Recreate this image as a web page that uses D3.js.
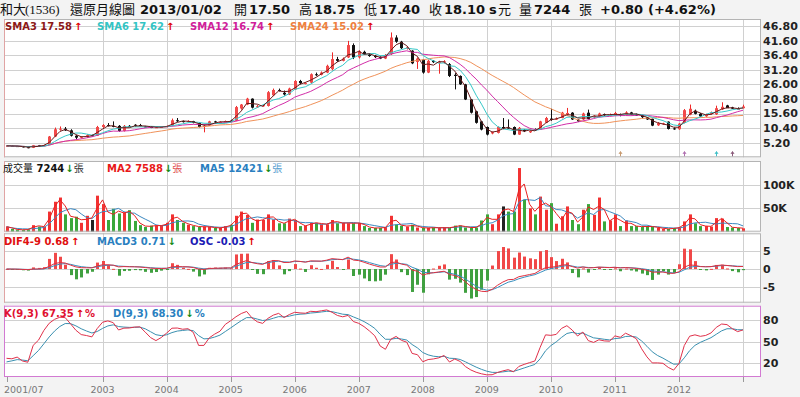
<!DOCTYPE html>
<html>
<head>
<meta charset="utf-8">
<script src="https://cdn.jsdelivr.net/npm/d3@7"></script>
<style>
body{margin:0;background:#f3f3f3;}
svg{display:block;font-family:"DejaVu Sans",Verdana,sans-serif;}
</style>
</head>
<body>
<script>
// monthly adjusted candles, 2001/07 .. 2013/01
var open = [4.0,4.1,4.0,3.9,3.6,3.4,4.3,4.0,4.5,7.4,
  10.0,10.2,9.6,7.7,7.0,7.2,7.9,7.7,10.8,11.5,
  11.2,11.2,9.4,11.2,11.6,11.5,11.0,10.8,10.6,10.7,
  10.8,11.3,13.2,12.9,12.6,12.9,12.2,10.8,11.3,12.8,
  12.5,12.6,13.1,13.0,17.4,18.8,20.9,17.8,18.2,18.3,
  22.1,24.0,23.0,22.4,24.2,27.2,26.4,26.6,29.6,29.4,
  30.2,31.4,35.0,34.4,35.6,40.0,35.6,37.6,36.6,36.2,
  35.8,35.2,36.8,42.7,41.2,38.8,38.0,34.0,34.8,30.2,
  34.4,33.9,34.0,33.2,29.4,29.0,26.0,20.6,16.4,12.8,
  10.8,8.5,8.7,10.8,10.6,10.8,8.1,9.8,8.9,10.0,
  9.9,12.3,13.8,13.6,14.0,15.2,15.9,13.4,13.5,15.9,
  14.2,14.6,15.4,15.0,14.9,15.4,15.0,16.0,15.2,15.0,
  14.2,13.7,11.4,11.8,12.7,10.3,10.0,12.3,15.2,16.6,
  15.5,14.6,15.4,15.3,17.1,18.5,17.8,17.4,17.5];
var high = [4.3,4.3,4.1,4.0,3.7,4.4,4.4,4.5,7.6,10.6,
  11.0,10.8,10.0,7.9,7.5,8.2,8.1,11.2,11.8,12.2,
  12.8,11.5,11.5,11.5,11.8,11.9,11.2,10.9,10.9,11.1,
  11.3,13.8,14.0,13.1,13.2,13.0,12.3,11.6,13.0,13.0,
  12.8,13.1,13.4,18.3,19.0,21.2,21.0,18.6,18.9,23.6,
  24.5,24.5,23.8,24.8,27.5,27.6,26.8,29.9,30.2,30.6,
  33.0,37.4,35.8,35.6,41.5,40.6,38.2,38.0,37.0,36.5,
  36.0,36.8,44.5,43.5,41.5,39.6,38.2,35.6,35.0,34.8,
  34.6,34.4,34.6,33.6,30.0,29.2,26.2,20.8,16.6,13.0,
  11.0,9.2,11.0,14.0,13.5,11.0,10.8,10.0,9.6,10.3,
  13.0,14.4,17.3,14.2,16.2,17.6,16.1,13.6,15.9,17.0,
  15.0,15.9,15.6,15.6,16.2,15.6,16.4,16.2,15.6,15.2,
  14.3,13.8,12.5,12.3,12.8,10.6,12.2,17.2,18.8,17.0,
  15.8,15.5,16.3,18.4,19.6,18.7,18.0,17.8,18.75];
var low = [3.9,3.9,3.7,3.5,3.2,3.3,3.9,4.0,4.4,7.2,
  9.5,9.4,7.4,6.5,6.7,6.9,7.3,7.6,10.5,11.0,
  10.7,9.1,9.2,10.8,11.0,11.2,10.7,10.4,10.5,10.6,
  10.7,11.2,12.6,12.4,12.5,12.1,10.6,8.9,11.2,12.3,
  12.2,12.5,12.7,12.9,17.0,18.6,17.4,17.6,18.0,18.1,
  21.8,23.5,22.0,22.2,24.0,26.0,26.0,26.4,29.0,29.2,
  30.0,31.0,34.0,34.2,35.4,35.0,35.2,36.6,35.8,35.4,
  35.0,35.0,36.5,40.8,38.6,38.4,33.2,31.5,29.8,30.0,
  33.6,29.8,33.4,28.6,24.2,25.8,20.4,15.6,12.0,9.6,
  7.8,8.2,8.5,10.0,10.2,7.9,8.0,9.0,8.7,9.4,
  9.8,12.2,13.0,13.4,13.9,15.0,13.3,12.6,13.3,13.5,
  14.0,14.5,14.8,14.7,14.8,14.6,14.9,15.1,14.8,14.0,
  13.3,11.1,11.2,11.6,9.9,9.8,9.8,12.1,15.0,15.3,
  14.4,14.4,15.2,15.1,16.9,17.6,17.2,17.2,17.4];
var close = [4.1,4.0,3.9,3.6,3.4,4.3,4.0,4.4,7.4,10.0,
  10.2,9.6,7.7,7.0,7.3,7.9,7.9,10.8,11.5,11.2,
  11.0,9.4,11.2,11.0,11.3,11.3,10.9,10.6,10.7,10.9,
  11.2,13.2,12.9,12.7,12.9,12.3,10.8,11.2,12.8,12.5,
  12.6,12.9,12.9,17.9,18.8,20.9,17.7,18.2,18.6,23.2,
  24.0,23.8,22.4,24.5,27.2,26.4,26.5,29.6,29.4,30.2,
  32.6,35.0,34.4,35.2,40.0,35.6,37.8,36.8,36.1,35.7,
  35.2,36.4,42.7,41.2,38.9,39.2,33.5,35.2,30.2,34.4,
  33.9,34.0,34.2,29.0,29.0,26.0,20.6,15.9,12.3,9.9,
  8.1,9.0,10.8,10.8,10.5,8.1,10.5,9.3,9.4,9.6,
  12.8,14.0,13.3,13.8,15.9,15.8,13.5,12.8,15.6,13.7,
  14.8,15.6,15.0,15.1,15.8,14.9,16.0,15.3,15.1,14.3,
  13.5,11.3,12.2,12.1,10.1,10.0,12.0,16.8,17.3,15.5,
  14.6,15.3,16.0,17.5,18.0,17.5,17.35,17.3,18.1];
// volume in thousands of 張
var volume = [10.7,5.8,4,4,5,14,11,11,43,64,
  73,37,29,32,19,34,25,77,59,25,
  49,39,41,46,23,14,10,13,13,13,
  19,37,25,19,15,12,10,11,10,8,
  8,12,15,34,43,36,19,26,25,37,
  26,18,18,28,25,12,13,19,19,16,
  16,25,18,19,18,18,19,12,8,8,
  8,10,34,15,13,11,15,9,8,8,
  9,8,9,8,13,13,9,9,9,24,
  37,16,37,54,43,43,136,68,50,37,
  75,47,61,17,33,54,25,16,47,59,
  36,73,22,24,37,12,24,12,12,10,
  12,10,9,6,6,8,9,22,37,18,
  12,12,11,29,28,10,8.9,7.93,7.244];

var priceTicks = [5.2,10.4,15.6,20.8,26.0,31.2,36.4,41.6,46.8];
var volTicks = [50,100];
var macdTicks = [-5,0,5];
var kdTicks = [20,50,80];
var yearLabels = ["2003","2004","2005","2006","2007","2008","2009","2010","2011","2012"];
var kdStart = [27,22]; // K, D at first month
// small event marks under the candles (month index, colour)
var eventIdx = [115,127,133,136];
var eventColor = ["#c89a70","#b070b0","#40c0c8","#8a5a7a"];

var months = d3.timeMonth.range(new Date(2001,6,1), new Date(2013,1,1));
var n = close.length;

// indicators
function sma(a, p){ return a.map(function(d,i){ return d3.mean(a.slice(Math.max(0,i-p+1), i+1)); }); }
function ema(a, p){ var k = 2/(p+1), e = a[0]; return a.map(function(v){ e = e + k*(v-e); return e; }); }
var sma3 = sma(close,3), sma6 = sma(close,6), sma12 = sma(close,12), sma24 = sma(close,24);
var vma2 = sma(volume,2), vma5 = sma(volume,5);
var e4 = ema(close,4), e9 = ema(close,9);
var dif = e4.map(function(d,i){ return d - e9[i]; });
var macd = ema(dif,3);
var osc = dif.map(function(d,i){ return d - macd[i]; });
var kArr = [], dArr = [];
(function(){
  var k = kdStart[0], d = kdStart[1];
  for (var i=0;i<n;i++){
    var s = Math.max(0,i-8);
    var lo = d3.min(low.slice(s,i+1)), hi = d3.max(high.slice(s,i+1));
    var rsv = hi>lo ? (close[i]-lo)/(hi-lo)*100 : 50;
    if (i>0){ k = k*2/3 + rsv/3; d = d*2/3 + k/3; }
    kArr.push(k); dArr.push(d);
  }
})();

var W = 800, H = 397, PL = 4, PR = 761;
var svg = d3.select("body").append("svg").attr("width",W).attr("height",H);
svg.append("rect").attr("width",W).attr("height",H).attr("fill","#f3f3f3");

var x = d3.scaleLinear().domain([0,n-1]).range([6.5,743]);
var yP = d3.scaleLinear().domain([0,46.8]).range([157.3,26]);
var yV = d3.scaleLinear().domain([0,100]).range([231.7,184.9]);
var yM = d3.scaleLinear().domain([-5,5]).range([287,251]);
var yK = d3.scaleLinear().domain([0,100]).range([377.8,305.6]);
var oscMax = d3.max(osc, function(d){ return Math.abs(d); });
var yO = d3.scaleLinear().domain([-oscMax,oscMax]).range([yM(-8.2),yM(8.2)]);

var yearIdx = months.map(function(m,i){ return m.getMonth()===0 && m.getFullYear()>=2003 ? i : -1; }).filter(function(i){ return i>=0; });

var panels = [
  {top:19, bottom:157.3, ticks:priceTicks, y:yP, fmt:d3.format(".2f"), border:"#b4b4b4"},
  {top:161, bottom:231.7, ticks:volTicks, y:yV, fmt:function(d){ return d+"K"; }, border:"#b4b4b4"},
  {top:233.3, bottom:302.7, ticks:macdTicks, y:yM, fmt:function(d){ return d; }, border:"#b4b4b4"},
  {top:305.7, bottom:377, ticks:kdTicks, y:yK, fmt:function(d){ return d; }, border:"#d27ad2"}
];

panels.forEach(function(p){
  svg.append("rect").attr("x",PL).attr("y",p.top).attr("width",PR-PL).attr("height",p.bottom-p.top)
    .attr("fill","#fff");
  svg.selectAll(null).data(p.ticks).enter().append("line")
    .attr("x1",PL).attr("x2",PR)
    .attr("y1",function(d){ return Math.round(p.y(d))+0.5; })
    .attr("y2",function(d){ return Math.round(p.y(d))+0.5; })
    .attr("stroke","#d0d0d0");
  svg.selectAll(null).data(yearIdx).enter().append("line")
    .attr("x1",function(d){ return Math.round(x(d))+0.5; })
    .attr("x2",function(d){ return Math.round(x(d))+0.5; })
    .attr("y1",p.top).attr("y2",p.bottom)
    .attr("stroke","#d0d0d0");
  svg.selectAll(null).data(p.ticks).enter().append("text")
    .attr("x",763).attr("y",function(d){ return p.y(d); })
    .attr("dy","0.36em").attr("font-size",11).attr("font-weight","bold").attr("fill","#222")
    .text(function(d){ return p.fmt(d); });
});

// price candles
function candleColor(i){ return close[i]>open[i] ? "#f02828" : "#111"; }
var idx = d3.range(n);
var cg = svg.append("g");
cg.selectAll("line").data(idx).enter().append("line")
  .attr("x1",function(i){ return Math.round(x(i))+0.5; })
  .attr("x2",function(i){ return Math.round(x(i))+0.5; })
  .attr("y1",function(i){ return yP(high[i]); })
  .attr("y2",function(i){ return yP(low[i]); })
  .attr("stroke",candleColor);
cg.selectAll("rect").data(idx).enter().append("rect")
  .attr("x",function(i){ return Math.round(x(i))-1; })
  .attr("width",3)
  .attr("y",function(i){ return yP(Math.max(open[i],close[i])); })
  .attr("height",function(i){ return Math.max(1, Math.abs(yP(open[i])-yP(close[i]))); })
  .attr("fill",function(i){ return close[i]>open[i] ? "#f24a4a" : "#111"; });

function drawLine(data, y, color, w){
  svg.append("path").datum(data)
    .attr("d", d3.line().x(function(d,i){ return x(i); }).y(function(d){ return y(d); }))
    .attr("fill","none").attr("stroke",color).attr("stroke-width",w||1);
}
drawLine(sma24, yP, "#f0925a");
drawLine(sma12, yP, "#d22ea8");
drawLine(sma6, yP, "#35c8c8");
drawLine(sma3, yP, "#6a1a1a");

// event marks
svg.append("g").selectAll("path").data(eventIdx).enter().append("path")
  .attr("d",function(i){ var cx = Math.round(x(i))+0.5; return "M"+cx+",156.5V152M"+(cx-1.5)+",154L"+cx+",151.5L"+(cx+1.5)+",154"; })
  .attr("fill","none")
  .attr("stroke",function(d,j){ return eventColor[j]; });

// volume
function volColor(i){ return close[i]>open[i] ? "#f23232" : (close[i]<open[i] ? "#3aa83a" : "#222"); }
svg.append("g").selectAll("rect").data(idx).enter().append("rect")
  .attr("x",function(i){ return Math.round(x(i))-1; })
  .attr("width",3)
  .attr("y",function(i){ return yV(volume[i]); })
  .attr("height",function(i){ return yV(0)-yV(volume[i]); })
  .attr("fill",volColor);
drawLine(vma5, yV, "#3b88c0");
drawLine(vma2, yV, "#e82020");

// MACD
svg.append("g").selectAll("rect").data(idx).enter().append("rect")
  .attr("x",function(i){ return Math.round(x(i))-1; })
  .attr("width",3)
  .attr("y",function(i){ return Math.min(yO(osc[i]), yO(0)); })
  .attr("height",function(i){ return Math.max(1, Math.abs(yO(osc[i])-yO(0))); })
  .attr("fill",function(i){ return osc[i]>=0 ? "#f04848" : "#40a040"; });
drawLine(macd, yM, "#3a90c0");
drawLine(dif, yM, "#e03040");

// KD
drawLine(dArr, yK, "#3a90b0");
drawLine(kArr, yK, "#e0304a");

// panel borders on top
panels.forEach(function(p){
  svg.append("rect").attr("x",PL+0.5).attr("y",p.top+0.5).attr("width",PR-PL-1).attr("height",p.bottom-p.top-1)
    .attr("fill","none").attr("stroke",p.border);
  svg.append("line").attr("x1",PL+0.5).attr("x2",PL+0.5).attr("y1",p.top).attr("y2",p.bottom)
    .attr("stroke",p.border==="#b4b4b4" ? "#e0a4a4" : p.border);
});

// x axis
var xa = svg.append("g");
xa.selectAll("line").data([0].concat(yearIdx)).enter().append("line")
  .attr("x1",function(i){ return Math.round(x(i))+0.5; })
  .attr("x2",function(i){ return Math.round(x(i))+0.5; })
  .attr("y1",377).attr("y2",382).attr("stroke","#999");
xa.append("text").attr("x",4).attr("y",393).attr("font-size",9.5).attr("fill","#777").text("2001/07");
xa.selectAll(".yl").data(yearIdx).enter().append("text").attr("class","yl")
  .attr("x",function(i){ return x(i); }).attr("y",393).attr("text-anchor","middle")
  .attr("font-size",9.5).attr("fill","#777")
  .text(function(d,j){ return yearLabels[j]; });

// header
var CJK = "'Noto Sans CJK TC',sans-serif";
var hdr = [[0,"和大",CJK,"normal"],[25,"(1536)","'Liberation Serif',serif","normal"],[70,"還原月線圖",CJK,"normal"],
  [140,"2013/01/02",null,"bold"],[234,"開",CJK,"normal"],[249,"17.50",null,"bold"],
  [299,"高",CJK,"normal"],[314,"18.75",null,"bold"],[364,"低",CJK,"normal"],[379,"17.40",null,"bold"],
  [429,"收",CJK,"normal"],[444,"18.10",null,"bold"],[489,"s",null,"bold"],[498,"元",CJK,"normal"],
  [519,"量",CJK,"normal"],[534,"7244",null,"bold"],[579,"張",CJK,"normal"],
  [600,"+0.80",null,"bold"],[648,"(+4.62%)",null,"bold"]];
hdr.forEach(function(h){
  var t = svg.append("text").attr("x",h[0]).attr("y",13.5).attr("font-size",13)
    .attr("font-weight",h[3]).attr("fill","#111").text(h[1]);
  if (h[2]) t.attr("font-family",h[2]);
});

// legends
var UP = "#e00000", DN = "#118a11";
function legend(xp, y, parts){
  var t = svg.append("text").attr("x",xp).attr("y",y).attr("font-size",10).attr("font-weight","bold");
  parts.forEach(function(p){
    var s = t.append("tspan").text(p[0]).attr("fill",p[1]);
    if (p[2]) s.attr("font-family",CJK).attr("font-weight","normal");
    if (p[3]) s.attr("dx",p[3]);
  });
}
legend(5,29.5,[["SMA3 17.58","#8c1818"],["↑",UP,0,2]]);
legend(97,29.5,[["SMA6 17.62","#33c4c4"],["↑",UP,0,2]]);
legend(190,29.5,[["SMA12 16.74","#d0209a"],["↑",UP,0,2]]);
legend(290,29.5,[["SMA24 15.02","#ee8040"],["↑",UP,0,2]]);
legend(3,172,[["成交量","#111",1],[" 7244","#111"],["↓",DN,0,1],["張","#333",1]]);
legend(107,172,[["MA2 7588","#e81818"],["↓",DN,0,1],["張","#e05050",1]]);
legend(200,172,[["MA5 12421","#2a7fc0"],["↓",DN,0,1],["張","#5aa0d0",1]]);
legend(4,245,[["DIF4-9 0.68","#e01010"],["↑",UP,0,2]]);
legend(97,245,[["MACD3 0.71","#2a7fc0"],["↓",DN,0,2]]);
legend(190,245,[["OSC -0.03","#1a1ab4"],["↑",UP,0,2]]);
legend(4,317,[["K(9,3) 67.35","#e01030"],["↑",UP,0,2],["%","#e01030",0,1]]);
legend(113,317,[["D(9,3) 68.30","#2a7fc0"],["↓",DN,0,2],["%","#2a7fc0",0,1]]);
</script>
</body>
</html>
